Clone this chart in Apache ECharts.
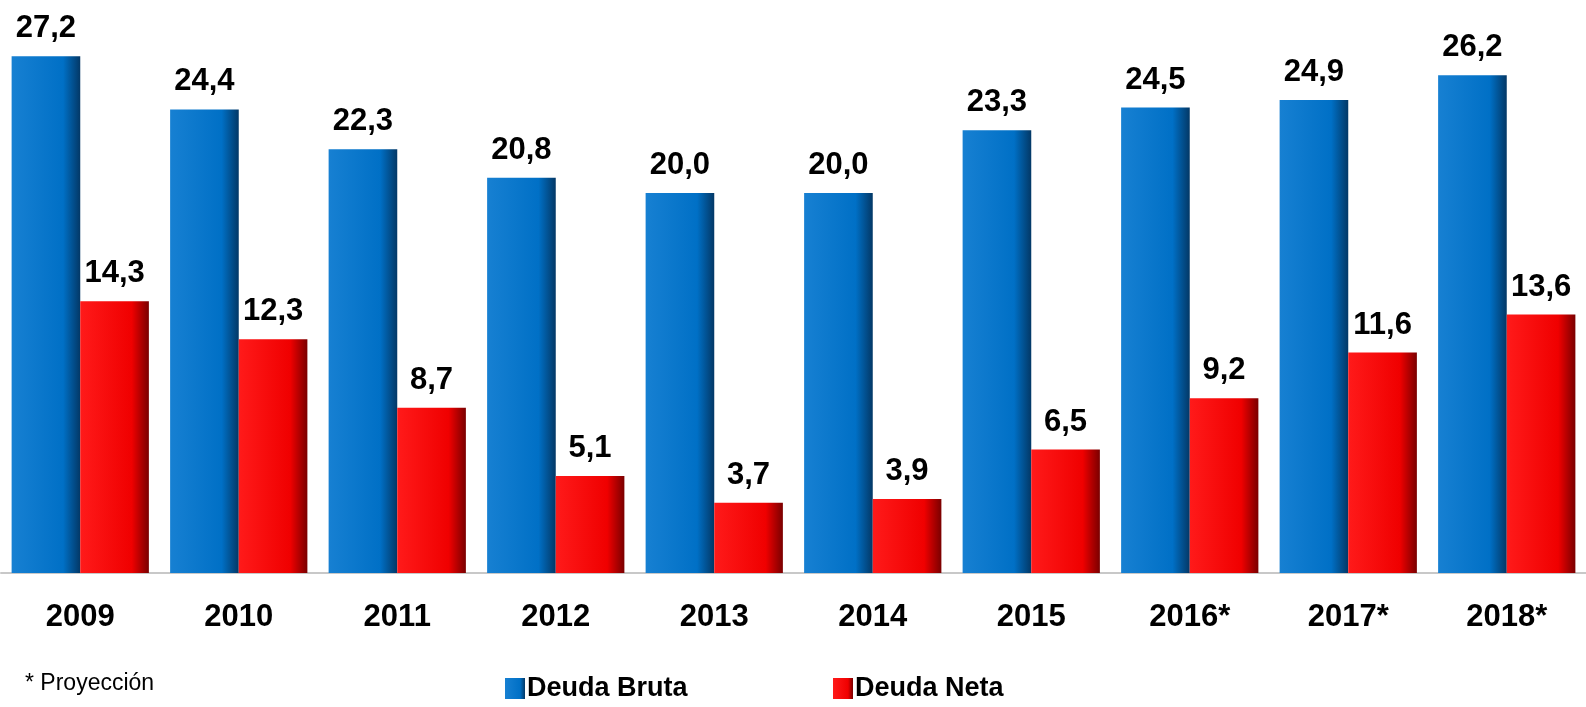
<!DOCTYPE html>
<html>
<head>
<meta charset="utf-8">
<script src="https://cdn.jsdelivr.net/npm/echarts@6/dist/echarts.min.js"></script>
<style>
    html, body { margin: 0; padding: 0; background: #fff; }
    #chart { width: 1586px; height: 707px; }
</style>
</head>
<body>
<div id="chart"></div>
<script>
const years = ['2009', '2010', '2011', '2012', '2013', '2014', '2015', '2016*', '2017*', '2018*']
const deudaBruta = [27.2, 24.4, 22.3, 20.8, 20.0, 20.0, 23.3, 24.5, 24.9, 26.2]
const deudaNeta = [14.3, 12.3, 8.7, 5.1, 3.7, 3.9, 6.5, 9.2, 11.6, 13.6]

const FONT = "'Liberation Sans', Arial, sans-serif"

function barColor(light, mid, dark) {
    return new echarts.graphic.LinearGradient(0, 0, 1, 0, [
        { offset: 0, color: light },
        { offset: 0.75, color: mid },
        { offset: 1, color: dark }
    ])
}

let valueLabel = {
    show: true,
    position: 'top',
    distance: 12,
    fontFamily: FONT,
    fontWeight: 'bold',
    fontSize: 31,
    color: '#000',
    formatter: p => p.value.toFixed(1).replace('.', ',')
}

let legendText = { fontFamily: FONT, fontWeight: 'bold', fontSize: 27, color: '#000', padding: [0, 0, 0, -3] }

let chart = echarts.init(document.getElementById('chart'))
let option = {
    animation: false,
    backgroundColor: '#fff',
    title: {
        text: '* Proyección',
        left: 20,
        top: 667,
        textStyle: {
            fontFamily: FONT,
            fontWeight: 'normal',
            fontSize: 23,
            color: '#000'
        }
    },
    legend: [{
        data: ['Deuda Bruta'],
        icon: 'rect',
        left: 500,
        top: 670,
        itemWidth: 20,
        itemHeight: 21,
        textStyle: legendText
    }, {
        data: ['Deuda Neta'],
        icon: 'rect',
        left: 828,
        top: 670,
        itemWidth: 20,
        itemHeight: 21,
        textStyle: legendText
    }],
    grid: {
        left: 1,
        right: -8,
        top: 3,
        bottom: 134
    },
    xAxis: {
        type: 'category',
        data: years,
        axisTick: { show: false },
        axisLine: { lineStyle: { color: '#c8c8c8', width: 2 } },
        axisLabel: {
            margin: 29,
            fontFamily: FONT,
            fontWeight: 'bold',
            fontSize: 31,
            color: '#000'
        }
    },
    yAxis: {
        type: 'value',
        min: 0,
        max: 30,
        show: false,
        splitLine: { show: false }
    },
    series: [{
        name: 'Deuda Bruta',
        type: 'bar',
        data: deudaBruta,
        barGap: '0%',
        barCategoryGap: '13.4%',
        itemStyle: { color: barColor('#1780d2', '#0070c6', '#033866') },
        label: valueLabel
    }, {
        name: 'Deuda Neta',
        type: 'bar',
        data: deudaNeta,
        itemStyle: { color: barColor('#ff1a1a', '#f00000', '#7a0000') },
        label: valueLabel
    }]
}
chart.setOption(option)
</script>
</body>
</html>
